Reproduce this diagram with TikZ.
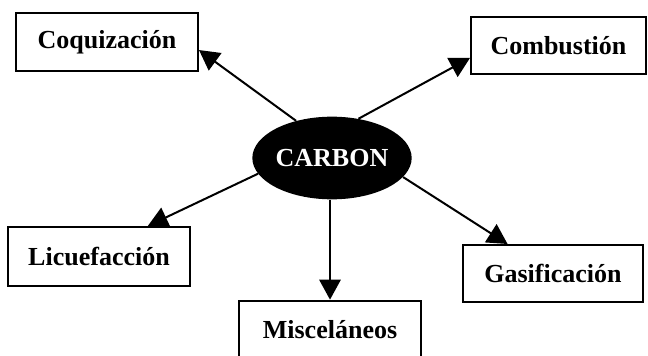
\documentclass[tikz,border=0pt]{standalone}
\usepackage{fontspec}
\setmainfont{Liberation Serif}
\usetikzlibrary{arrows.meta,shapes.geometric}

\begin{document}
\begin{tikzpicture}[x=0.75pt,y=-0.75pt,
        proc/.style={draw,line width=1.5pt,inner sep=0pt,font=\fontsize{19.5}{22}\selectfont\bfseries},
        flow/.style={line width=1.5pt,-{Triangle[length=15pt,width=16pt]}}]
                \useasboundingbox (0,0) rectangle (648,356);
                \clip (0,0) rectangle (648,356);
                \node[ellipse,fill=black,text=white,inner sep=0pt,minimum width=101pt,minimum height=62pt,font=\fontsize{19.5}{22}\selectfont\bfseries] (carbon) at (332,158) {CARBON};
                \node[proc,minimum width=136.5pt,minimum height=43.5pt] (coq) at (107,42) {Coquización};
                \node[proc,minimum width=131.25pt,minimum height=42.75pt] (comb) at (558.5,45.5) {Combustión};
                \node[proc,minimum width=136.5pt,minimum height=44.25pt] (lic) at (99,256.5) {Licuefacción};
                \node[proc,minimum width=136.5pt,minimum height=44pt] (misc) at (330,330) {Misceláneos};
                \node[proc,minimum width=135pt,minimum height=42.75pt] (gas) at (553,273.5) {Gasificación};
                \draw[flow] (carbon.134) -- (coq.-5);
                \draw[flow] (carbon.56) -- (comb.188);
                \draw[flow] (carbon.192) -- (lic.32);
                \draw[flow] (carbon.south -| misc.north) -- (misc.north);
                \draw[flow] (carbon.345) -- (gas.147);
            \end{tikzpicture}
\end{document}
